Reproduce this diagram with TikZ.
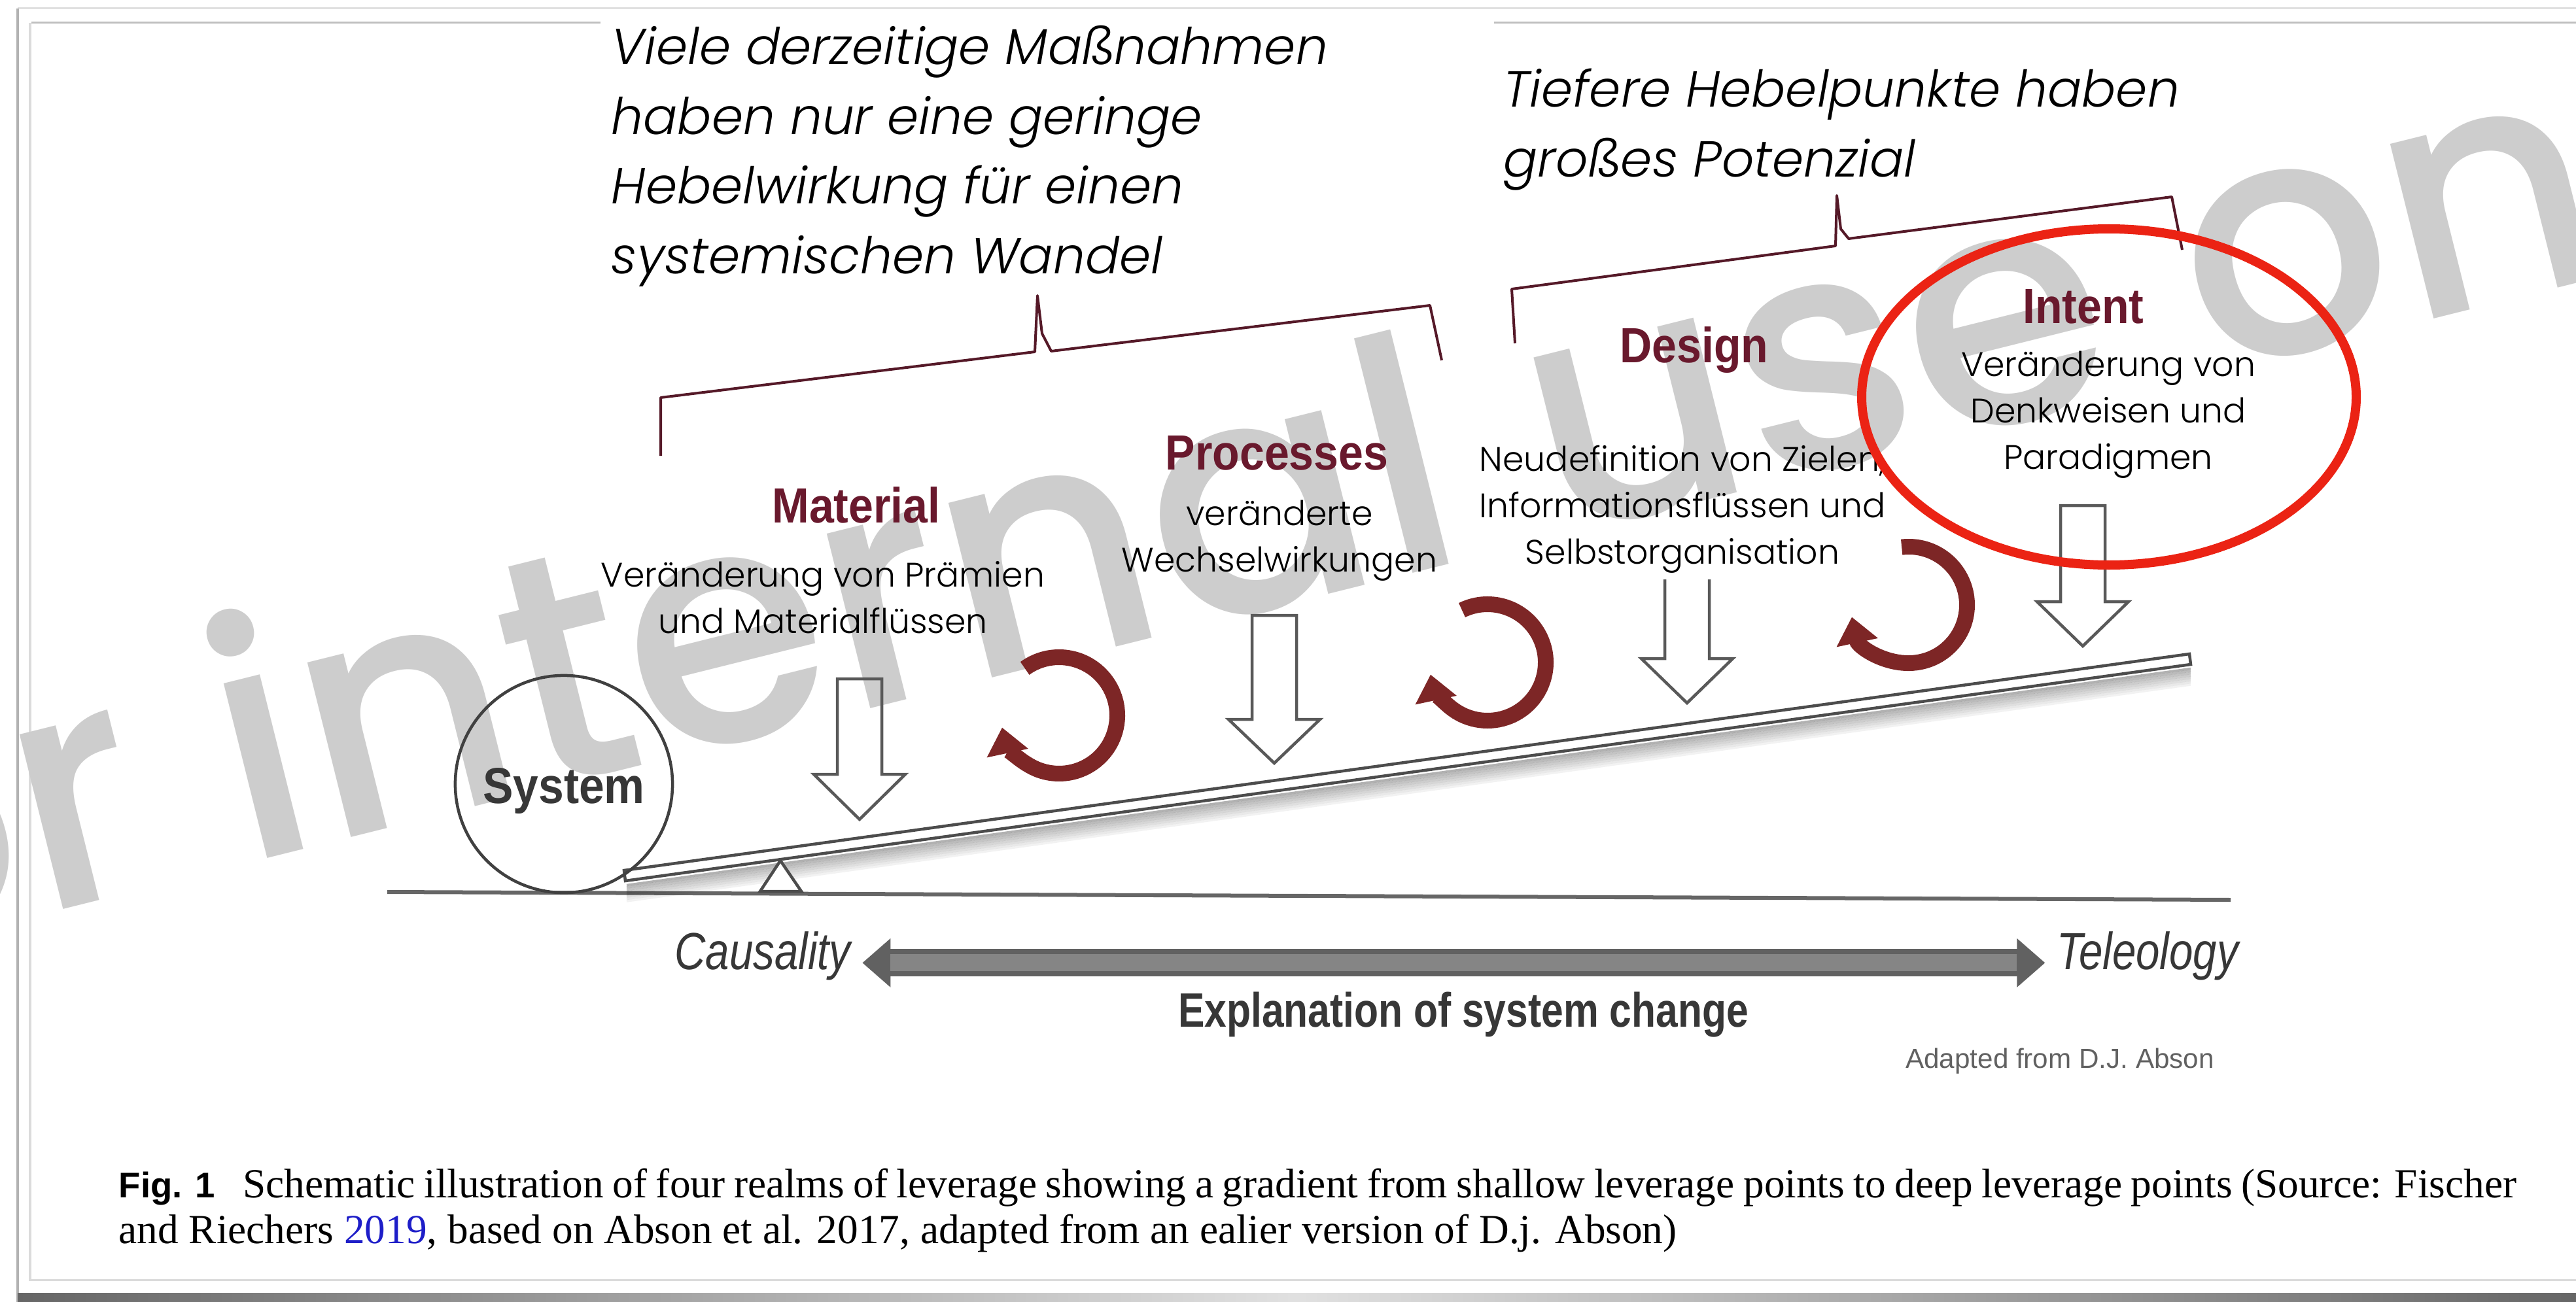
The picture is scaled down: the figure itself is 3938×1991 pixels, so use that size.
\documentclass[tikz,border=0pt]{standalone}
\usepackage{fontspec}
\usetikzlibrary{arrows.meta,positioning,calc}
\setmainfont{Poppins}
\IfFontExistsTF{Poppins Light}
  {\newfontfamily\descfont{Poppins Light}}
  {\newfontfamily\descfont{Poppins}}
\IfFontExistsTF{Poppins Light Italic}
  {\newfontfamily\notefont{Poppins Light Italic}}
  {\newcommand\notefont{\itshape}}
\IfFontExistsTF{Poppins Medium}
  {\newfontfamily\markfont{Poppins Medium}}
  {\newfontfamily\markfont{Poppins}}
\newfontfamily\headfont[FakeStretch=0.9]{Liberation Sans}
\newfontfamily\narrowfont[FakeStretch=0.82]{Liberation Sans}
\newfontfamily\plainsans{Liberation Sans}
\newfontfamily\capfont{Liberation Serif}
\definecolor{cMaroon}{RGB}{105,25,45}
\definecolor{cLoop}{RGB}{125,38,38}
\definecolor{cBrace}{RGB}{85,25,40}
\definecolor{cRing}{RGB}{235,35,20}
\definecolor{cMark}{RGB}{205,205,205}
\definecolor{cText}{RGB}{55,55,55}
\definecolor{cLink}{RGB}{30,30,200}
\tikzset{
  notetext/.style={anchor=north west,inner sep=0pt,align=left,
                   font=\notefont\fontsize{22pt}{30.4pt}\selectfont},
  realm/.style={anchor=base,inner sep=0pt,text=cMaroon,
                font=\headfont\bfseries\fontsize{21.5pt}{24pt}\selectfont},
  realmdesc/.style={anchor=north,inner sep=0pt,align=center,
                    font=\descfont\fontsize{14.8pt}{20.2pt}\selectfont},
  axislabel/.style={anchor=base,inner xsep=0.17cm,inner ysep=0pt,text=cText,
                    font=\narrowfont\itshape\fontsize{22.7pt}{26pt}\selectfont},
  hollowarr/.style={draw=black!65,line width=0.045cm},
  looparr/.style={draw=cLoop,line width=0.24cm,
                  -{Triangle[length=0.4cm,width=0.62cm]}},
  bracket/.style={draw=cBrace,line width=0.04cm,line join=round},
  levbeam/.style={draw=black!70,fill=white,line width=0.045cm},
  bararr/.style={draw=black!62,line width=0.42cm,
                 {Triangle[length=0.43cm,width=0.72cm]}-{Triangle[length=0.43cm,width=0.72cm]}},
  barcore/.style={draw=black!48,line width=0.26cm,
                  shorten <=0.43cm,shorten >=0.43cm},
  frameline/.style={line width=0.03cm}
}

\begin{document}
\begin{tikzpicture}[x=0.01cm,y=0.01cm]
  \useasboundingbox (0,0) rectangle (3938,-1991);
  % page frame
  \draw[frameline,black!12] (27,-13) -- (3938,-13);
  \draw[frameline,black!30] (27,-13) -- (27,-1991);
  \draw[frameline,black!25] (48,-35) -- (918,-35);
  \draw[frameline,black!25] (2284,-35) -- (3938,-35);
  \draw[frameline,black!14] (46,-35) -- (46,-1957) -- (3938,-1957);
  \shade[left color=black!60,right color=black!60,middle color=black!12]
    (27,-1977) rectangle (3938,-1991);

  % watermark
  \node[anchor=base west,inner sep=0pt,rotate=14,text=cMark,
        font=\markfont\fontsize{142pt}{150pt}\selectfont] (mark) at (-410,-1517)
      {for internal use only};

  % ground, lever and fulcrum
  \draw[black!60,line width=0.06cm] (592,-1364) -- (3410,-1376);
  \foreach \k [evaluate=\k as \op using {0.34-0.036*\k}] in {1,...,8}
    \draw[black,opacity=\op,line width=0.035cm]
      (958,{-1350-3.5*\k}) -- (3349,{-1019-3.5*\k});
  \draw[levbeam] (956,-1347) -- (954,-1331) -- (3347,-1000) -- (3349,-1016) -- cycle;
  \draw[levbeam] (1162,-1363) -- (1193,-1316) -- (1225,-1363) -- cycle;
  \node[circle,draw=black!75,line width=0.045cm,minimum size=3.32cm,inner sep=0pt,
        text height=16.5pt,text depth=0pt,text=cText,
        font=\headfont\bfseries\fontsize{22pt}{24pt}\selectfont] (sys) at (862,-1199) {System};

  % hollow arrows
  \foreach \cx/\ya/\yb/\yc in {1314/1038/1184/1253,1948/941/1100/1167,3184/773/920/988}
    \draw[hollowarr] (\cx-34,-\ya) -- (\cx-34,-\yb) -- (\cx-70,-\yb) -- (\cx,-\yc)
      -- (\cx+70,-\yb) -- (\cx+34,-\yb) -- (\cx+34,-\ya) -- cycle;
  \draw[hollowarr] (2545,-886) -- (2545,-1007) -- (2509,-1007) -- (2579,-1075)
    -- (2649,-1007) -- (2613,-1007) -- (2613,-886);

  % feedback loops
  \foreach \cx/\cy/\sa in {1619/1094/126,2274/1013/116,2918/925/97}
    \draw[looparr] (\cx,-\cy) ++(\sa:89) arc[start angle=\sa,end angle=-168,radius=89];

  % brackets
  \draw[bracket] (1010,-697) -- (1010,-608) -- (1582,-538) -- (1586,-452)
    -- (1593,-510) -- (1607,-537) -- (2186,-467) -- (2204,-551);
  \draw[bracket] (2316,-525) -- (2311,-442) -- (2806,-376) -- (2808,-299)
    -- (2814,-350) -- (2826,-365) -- (3320,-301) -- (3336,-382);

  % notes on top
  \node[notetext] (noteL) at (934,-38)
      {Viele derzeitige Maßnahmen\\haben nur eine geringe\\Hebelwirkung für einen\\systemischen Wandel};
  \node[notetext] (noteR) at (2298,-104)
      {Tiefere Hebelpunkte haben\\großes Potenzial};

  % realms
  \node[realm] (mat) at (1309,-799) {Material};
  \node[realm] (pro) at (1952,-718) {Processes};
  \node[realm] (des) at (2590,-554) {Design};
  \node[realm] (int) at (3185,-494) {Intent};
  \node[realmdesc] (matD) at (1258,-858) {Veränderung von Prämien\\und Materialflüssen};
  \node[realmdesc] (proD) at (1956,-764) {veränderte\\Wechselwirkungen};
  \node[realmdesc] (desD) at (2572,-680)
      {Neudefinition von Zielen,\\Informationsflüssen und\\Selbstorganisation};
  \node[realmdesc] (intD) at (3223,-536) {Veränderung von\\Denkweisen und\\Paradigmen};

  % axis
  \node[axislabel] (caus) at (1166,-1482) {Causality};
  \node[axislabel] (tele) at (3283,-1482) {Teleology};
  \draw[bararr] (caus.mid east) -- (tele.mid west);
  \draw[barcore] (caus.mid east) -- (tele.mid west);
  \node[anchor=base,inner sep=0pt,text=cText,
        font=\narrowfont\bfseries\fontsize{21pt}{24pt}\selectfont] (expl) at (2237,-1570)
      {Explanation of system change};
  \node[anchor=base,inner sep=0pt,text=black!62,
        font=\plainsans\fontsize{12pt}{14pt}\selectfont] (src) at (3149,-1633)
      {Adapted from D.J. Abson};

  % caption
  \node[anchor=north west,inner sep=0pt,align=left,
        font=\capfont\fontsize{18pt}{19.9pt}\selectfont] (cap) at (181,-1786)
      {\makebox[36.63cm][s]{\mbox{\plainsans\bfseries\fontsize{15.5pt}{19.9pt}\selectfont Fig. 1}\hspace{0.45em} Schematic illustration of four realms of leverage showing a gradient from shallow leverage points to deep leverage points (Source: Fischer}\\
       and Riechers \textcolor{cLink}{2019}, based on Abson et al. 2017, adapted from an ealier version of D.j. Abson)};

  % highlight
  \draw[cRing,line width=0.14cm] (3224,-607) ellipse[x radius=378,y radius=257];
\end{tikzpicture}
\end{document}
